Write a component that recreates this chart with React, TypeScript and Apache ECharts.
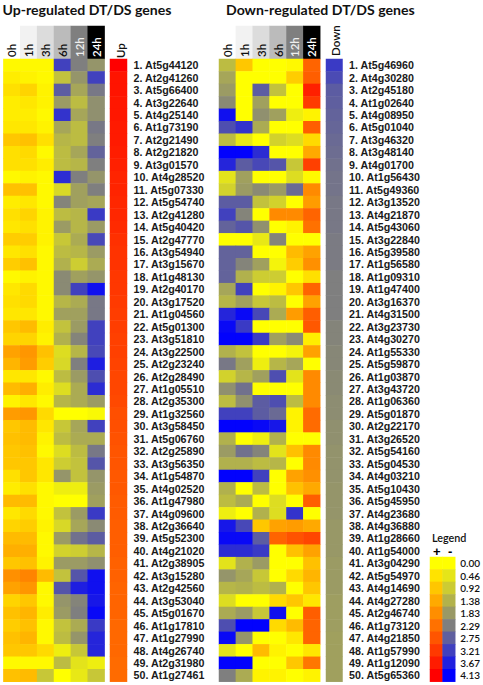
import React, { useEffect, useRef } from "react";
import * as echarts from "echarts";

const hours = ["0h", "1h", "3h", "6h", "12h", "24h"];
const headerFills = ["#ffffff", "#f2f2f2", "#dcdcdc", "#bbbbbb", "#7f7f7f", "#000000"];
const headerInk = ["#111111", "#111111", "#111111", "#111111", "#eeeeee", "#ffffff"];

const upGenes = ["At5g44120","At2g41260","At5g66400","At3g22640","At4g25140","At1g73190","At2g21490","At2g21820","At3g01570","At4g28520","At5g07330","At5g54740","At2g41280","At5g40420","At2g47770","At3g54940","At3g15670","At1g48130","At2g40170","At3g17520","At1g04560","At5g01300","At3g51810","At3g22500","At2g23240","At2g28490","At1g05510","At2g35300","At1g32560","At3g58450","At5g06760","At2g25890","At3g56350","At1g54870","At4g02520","At1g47980","At4g09600","At2g36640","At5g52300","At4g21020","At2g38905","At3g15280","At2g42560","At3g53040","At5g01670","At1g17810","At1g27990","At4g26740","At2g31980","At1g27461"];
const downGenes = ["At5g46960","At4g30280","At2g45180","At1g02640","At4g08950","At5g01040","At3g46320","At3g48140","At4g01700","At1g56430","At5g49360","At3g13520","At4g21870","At5g43060","At3g22840","At5g39580","At1g56580","At1g09310","At1g47400","At3g16370","At4g31500","At3g23730","At4g30270","At1g55330","At5g59870","At1g03870","At3g43720","At1g06360","At5g01870","At2g22170","At3g26520","At5g54160","At5g04530","At4g03210","At5g10430","At5g45950","At4g23680","At4g36880","At1g28660","At1g54000","At3g04290","At5g54970","At4g14690","At4g27280","At2g46740","At1g73120","At4g21850","At1g57990","At1g12090","At5g65360"];

const upRows = [
[.1,.1,.1,-3.2,-2.3,-1.9],[.3,.2,.1,-1.1,-1.9,-3.2],[.5,.7,.2,-2.8,-1.6,-2.4],[.3,.4,.2,-1.8,-1.2,-2.0],[.3,.3,.1,-3.4,-1.6,-2.0],
[.4,.4,.2,-1.6,-1.2,-2.4],[.9,1.0,.5,-1.3,-1.2,-2.3],[.5,.6,.1,-1.2,-1.6,-2.7],[.5,.5,.3,-1.2,-1.3,-2.3],[.1,.2,.1,-3.5,-2.3,-1.9],
[1.0,1.0,.1,-.7,-1.7,-2.3],[.3,.4,.1,-2.2,-1.7,-1.6],[.5,.7,.2,-1.2,-1.3,-3.3],[.4,.5,.2,-1.8,-1.3,-1.8],[.8,.8,.2,-1.0,-1.5,-3.1],
[.4,.5,.1,-1.2,-1.3,-1.8],[.8,1.0,.1,-1.4,-.9,-1.5],[.1,.2,.1,-2.1,-1.7,-1.9],[.4,.6,.1,-2.1,-3.2,-3.9],[.5,.6,.1,-1.3,-1.5,-2.4],
[.4,.4,.1,-1.7,-1.7,-2.4],[.9,1.1,.3,-1.1,-1.8,-3.2],[.7,.7,.2,-1.4,-2.2,-3.2],[1.5,1.7,1.0,-.6,-1.3,-3.1],[1.2,1.6,.8,-.7,-2.3,-3.7],
[.4,.4,.1,-1.2,-1.8,-3.0],[1.1,1.3,.3,-.6,-1.5,-3.5],[.2,.4,.1,-1.3,-1.5,-1.8],[1.6,1.7,.6,0,0,-.1],[.9,1.1,.4,-1.0,-1.6,-3.2],
[1.0,1.1,.2,-1.2,-1.5,-1.5],[.9,1.0,.1,-.6,-1.2,-2.4],[.9,.9,.4,-.9,-1.1,-2.9],[.5,.9,.4,-1.9,-1.1,-1.9],[.3,.5,.1,-.3,-.3,-1.8],
[1.1,1.1,.1,0,0,-1.7],[.4,.6,.1,-1.1,-1.8,-3.3],[.7,.8,.2,-.7,-1.6,-2.1],[1.1,1.1,.1,-1.8,-2.5,-2.8],[1.3,1.3,.1,-.8,-.9,-1.3],
[.9,1.0,.2,-1.8,-1.8,-2.0],[1.8,2.0,1.1,-1.1,-2.9,-3.9],[1.5,1.7,.1,-2.9,-3.7,-3.9],[.7,.9,.1,-1.9,-2.2,-3.8],[1.0,1.2,.3,-1.8,-2.3,-4.0],
[.8,1.0,.1,-1.1,-1.5,-3.3],[1.0,1.2,.1,-1.2,-1.9,-3.6],[.9,.9,.6,-.3,-1.0,-3.6],[.1,.1,.1,-1.2,-.5,-.3],[1.0,1.1,-1.0,0,-.4,-1.0],
];

const downRows = [
[-1.2,.9,0,0,.1,2.5],[-1.6,0,0,0,.8,2.6],[-1.8,0,-2.8,-1.1,0,3.6],[-2.1,0,-1.7,0,0,3.2],[-3.9,0,-2.0,-1.7,-.3,.2],
[-3.0,-3.4,-1.5,0,0,2.6],[-1.2,-.4,0,-.8,-.6,.6],[-4.1,-4.1,-3.5,0,0,1.4],[-3.6,-2.8,-3.1,-2.9,-1.0,3.1],[-.5,-1.7,0,0,-.6,.1],
[-.8,-1.8,-2.1,-1.8,-2.6,1.9],[-2.8,-2.8,-1.1,-.8,0,1.6],[-3.2,-2.2,0,1.9,1.9,2.5],[-2.7,-2.9,-2.0,0,.2,2.3],[0,0,-.4,-2.2,0,0],
[-2.7,-2.7,0,0,1.1,1.5],[-2.7,-2.2,-1.7,-.2,.8,1.8],[-2.7,-1.4,-.9,-.9,0,.5],[-1.6,-3.2,0,.2,.9,2.5],[-1.3,-1.7,-1.0,-1.2,0,1.5],
[-3.6,-4.0,-3.1,-1.5,1.6,2.6],[-4.0,-3.3,0,0,0,2.7],[-4.1,-4.1,-3.3,-1.7,-2.1,.3],[-1.4,-1.1,0,0,-.2,1.5],[-2.4,-1.7,-.3,-1.3,-1.6,0],
[-.8,-1.3,-1.7,-3.0,-.5,1.9],[-2.0,-2.5,0,0,0,1.9],[-1.2,-2.0,-2.8,-3.0,-1.2,1.9],[-3.2,-3.2,-2.8,-2.6,.2,2.4],[-4.1,-4.1,-4.0,-3.8,.2,2.4],
[-1.4,0,-.3,-1.4,0,0],[-1.8,-2.5,-2.2,-.5,1.0,1.9],[-1.4,-1.4,-1.2,-1.3,0,1.9],[-4.1,-4.1,-3.2,0,1.5,1.8],[-1.4,0,-1.2,0,1.0,1.4],
[-1.2,-1.5,0,-.6,0,2.6],[-.3,0,-1.4,-.6,-3.4,0],[-3.8,-3.1,.9,1.5,1.6,1.4],[-4.0,-4.0,-2.8,2.5,2.8,3.0],[-3.5,-3.5,-3.3,0,1.0,1.5],
[-.5,-1.4,-1.8,0,0,1.0],[-1.9,-1.6,-1.0,0,.6,1.2],[-1.3,-1.4,-1.2,-1.4,0,.9],[-.6,0,0,.6,.9,.4],[-1.5,-1.8,-1.0,-3.9,0,2.6],
[-3.0,-4.1,-4.1,.6,1.1,2.5],[-4.0,-1.9,0,0,.4,2.5],[-.5,0,1.1,.2,0,.4],[-4.1,-4.1,0,0,.9,2.2],[-2.3,-1.5,.2,.2,0,.2],
];

const upSummary = [4.13,3.8,3.8,3.75,3.75,3.7,3.7,3.65,3.6,3.55,3.55,3.5,3.5,3.45,3.35,3.3,3.3,3.25,3.25,3.2,3.15,3.15,3.1,3.1,3.05,3,3,2.95,2.85,2.85,2.8,2.75,2.75,2.7,2.7,2.65,2.65,2.6,2.6,2.6,2.55,2.55,2.5,2.5,2.5,2.45,2.45,2.45,2.4,2.4];
const downSummary = [-3.3,-3.05,-2.8,-2.75,-2.7,-2.65,-2.6,-2.55,-2.5,-2.45,-2.45,-2.4,-2.4,-2.4,-2.35,-2.35,-2.35,-2.3,-2.3,-2.3,-2.3,-2.2,-2.2,-2.15,-2.15,-2.1,-2.1,-2.05,-2.05,-2,-2,-1.95,-1.95,-1.95,-1.9,-1.9,-1.9,-1.85,-1.85,-1.85,-1.8,-1.8,-1.8,-1.75,-1.75,-1.75,-1.7,-1.7,-1.7,-1.7];

const legendTicks = ["0.00","0.46","0.92","1.38","1.83","2.29","2.75","3.21","3.67","4.13"];
const legendSides = ["+", "-"];

const lerpHex = (a: number[], b: number[], t: number) =>
  "rgb(" + a.map((v, i) => Math.round(v + (b[i] - v) * t)).join(",") + ")";
const BLUE = [0, 0, 255], GREY = [127, 127, 127], YELLOW = [255, 255, 0], RED = [255, 0, 0];
const ramp: string[] = [];
for (let i = 0; i < 4; i++) ramp.push(lerpHex(BLUE, GREY, i / 4));
for (let i = 0; i < 5; i++) ramp.push(lerpHex(GREY, YELLOW, i / 5));
for (let i = 0; i <= 9; i++) ramp.push(lerpHex(YELLOW, RED, i / 9));

const TOP = 59, BOTTOM = 685 - 681.7;
const LATO = "Lato";

function App() {
  const ref = useRef<HTMLDivElement>(null);
  useEffect(() => {
    document.body.style.margin = "0";
    const chart = echarts.init(ref.current!, undefined, { renderer: "svg" });
    const grids: any[] = [], xAxes: any[] = [], yAxes: any[] = [], series: any[] = [];
    const mapped: number[] = [], headerSeries: number[] = [];

    const add = (grid: any, x: any, y: any, s: any, colored = true) => {
      const i = grids.length;
      grids.push({ ...grid, containLabel: false });
      xAxes.push({ type: "category", gridIndex: i, axisLine: { show: false }, axisTick: { show: false }, splitLine: { show: false }, ...x });
      yAxes.push({ type: "category", gridIndex: i, inverse: true, axisLine: { show: false }, axisTick: { show: false }, splitLine: { show: false }, ...y });
      (colored ? mapped : headerSeries).push(series.length);
      series.push({ type: "heatmap", xAxisIndex: i, yAxisIndex: i, progressive: 0, animation: false, emphasis: { disabled: true }, itemStyle: { borderWidth: 0 }, ...s });
    };

    const rowCats = (genes: string[]) => genes.map((g, i) => `${i + 1}. ${g}`);
    const matrix = (rows: number[][]) => rows.flatMap((r, y) => r.map((v, x) => [x, y, v]));

    const panel = (left: number, sideLeft: number, sideW: number, rows: number[][], summary: number[], genes: string[], sideName: string) => {
      const w = 101.2, right = 483 - (left + w);
      // time-point header
      add({ left, right, top: 26, height: 33 },
        { data: hours, position: "bottom", z: 10, axisLabel: { show: true, inside: true, rotate: 90, interval: 0, margin: 2, fontFamily: LATO, fontSize: 11.5, fontWeight: 600, color: (_: any, i: number) => headerInk[i] } },
        { data: ["head"], show: false },
        { data: hours.map((_, x) => [x, 0, x]) }, false);
      // expression cells
      add({ left, right, top: TOP, bottom: BOTTOM },
        { data: hours, show: false }, { data: genes, show: false }, { data: matrix(rows) });
      // summary column with gene labels
      add({ left: sideLeft, width: sideW, top: TOP, bottom: BOTTOM },
        { data: [sideName], show: false },
        { data: rowCats(genes), position: "right", axisLabel: { show: true, interval: 0, margin: 6.5, fontFamily: "Liberation Sans", fontSize: 10.7, fontWeight: "bold", color: "#1a1a1a" } },
        { data: summary.map((v, y) => [0, y, v]) });
    };

    panel(3.4, 110, 17, upRows, upSummary, upGenes, "Up");
    panel(219, 326, 16.5, downRows, downSummary, downGenes, "Down");

    // legend swatches
    add({ left: 430, width: 25.7, top: 557, bottom: BOTTOM },
      { data: legendSides, show: false },
      { data: legendTicks, position: "right", axisLabel: { show: true, interval: 0, margin: 5, fontFamily: LATO, fontSize: 10, fontWeight: 600, color: "#111" } },
      { data: legendTicks.flatMap((t, y) => [[0, y, parseFloat(t)], [1, y, -parseFloat(t)]]) });

    const sideTitle = (text: string, x: number, y: number) => ({
      type: "text", x, y, rotation: Math.PI / 2,
      style: { text, textAlign: "left", textVerticalAlign: "middle", fontFamily: LATO, fontSize: 11.5, fontWeight: 600, fill: "#111" },
    });

    chart.setOption({
      animation: false,
      backgroundColor: "#ffffff",
      grid: grids,
      xAxis: xAxes,
      yAxis: yAxes,
      series,
      visualMap: [
        { show: false, type: "continuous", min: -4.13, max: 4.13, dimension: 2, seriesIndex: mapped, inRange: { color: ramp } },
        { show: false, type: "piecewise", dimension: 2, seriesIndex: headerSeries, pieces: headerFills.map((color, value) => ({ value, color })) },
      ],
      title: [
        { text: "Up-regulated DT/DS genes", left: 2.5, top: 2, textStyle: { fontFamily: LATO, fontSize: 14.1, fontWeight: "bold", color: "#111" }, padding: 0 },
        { text: "Down-regulated DT/DS genes", left: 226, top: 2, textStyle: { fontFamily: LATO, fontSize: 14.1, fontWeight: "bold", color: "#111" }, padding: 0 },
      ],
      graphic: [
        sideTitle("Up", 120, 58),
        sideTitle("Down", 335, 56),
        { type: "text", x: 432, y: 531.5, style: { text: "Legend", fontFamily: LATO, fontSize: 10.8, fontWeight: 600, fill: "#111" } },
        { type: "text", x: 433, y: 545, style: { text: "+", fontFamily: "Liberation Sans", fontSize: 13, fontWeight: "bold", fill: "#000" } },
        { type: "text", x: 448, y: 545, style: { text: "-", fontFamily: "Liberation Sans", fontSize: 13, fontWeight: "bold", fill: "#000" } },
      ],
    });
    return () => chart.dispose();
  }, []);
  return <div ref={ref} style={{ position: "fixed", left: 0, top: 0, width: 483, height: 685 }} />;
}

export default App;
